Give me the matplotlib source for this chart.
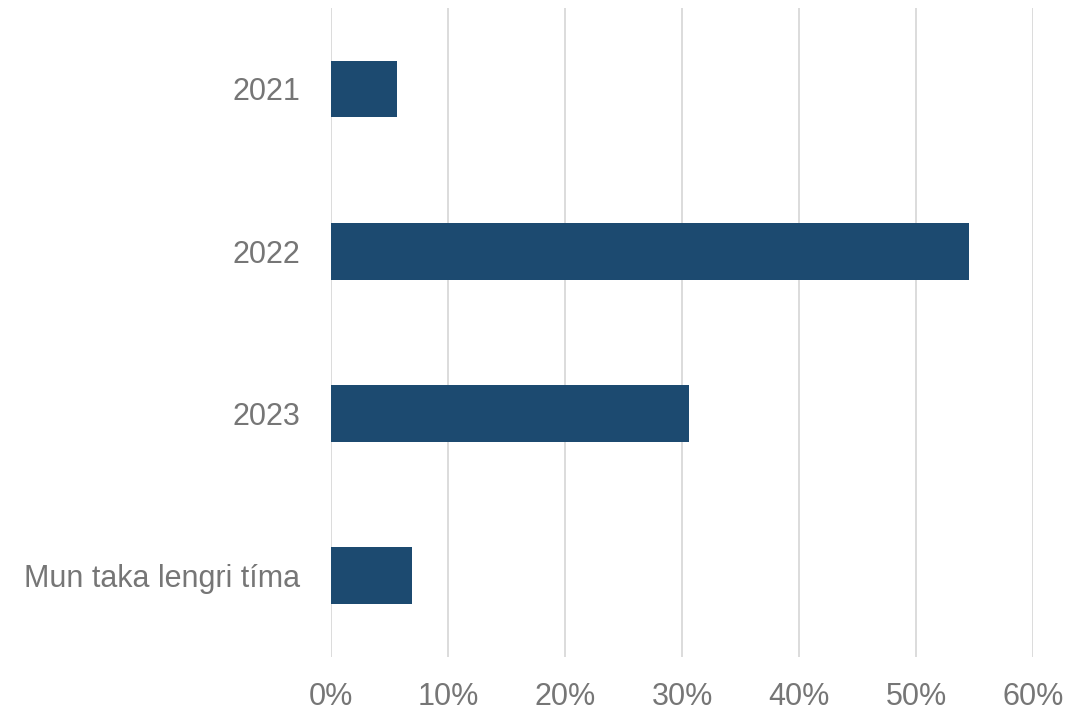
import matplotlib
matplotlib.use("Agg")
import matplotlib.pyplot as plt
from matplotlib.ticker import PercentFormatter

categories = ["2021", "2022", "2023", "Mun taka lengri tíma"]
values = [5.6, 54.5, 30.6, 6.9]
xticks = [0, 10, 20, 30, 40, 50, 60]

plt.rcParams['font.family'] = ['Liberation Sans', 'DejaVu Sans']

fig = plt.figure(figsize=(10.89, 7.13), dpi=100)
ax = fig.add_axes([0.304, 0.0785, 0.6446, 0.9105])

ypos = range(len(categories))
ax.barh(ypos, values, height=0.35, color="#1c4a70", zorder=3)

ax.set_ylim(3.5, -0.5)
ax.set_xlim(0, 60)
ax.set_yticks(list(ypos))
ax.set_yticklabels(categories)
ax.set_xticks(xticks)
ax.xaxis.set_major_formatter(PercentFormatter(decimals=0))

ax.grid(axis="x", color="#d9d9d9", linewidth=1.3, zorder=0)
for s in ax.spines.values():
    s.set_visible(False)
ax.tick_params(axis="both", length=0, labelsize=22, labelcolor="#767676")
ax.tick_params(axis="x", pad=18)
ax.tick_params(axis="y", pad=22)

fig.savefig("out.png", dpi=100)
